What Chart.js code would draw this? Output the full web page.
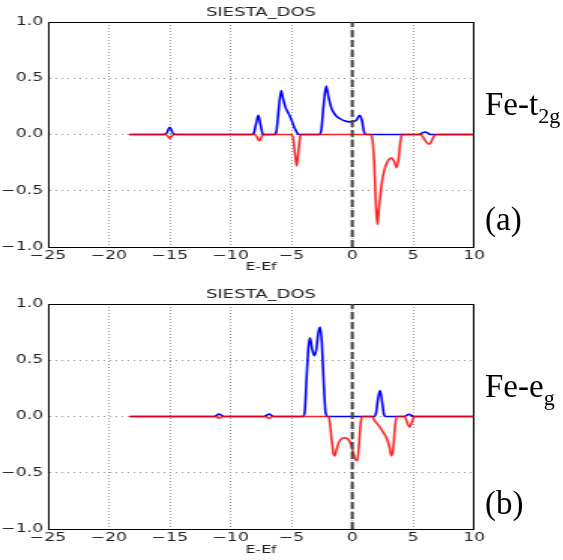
<!DOCTYPE html>
<html>
<head>
<meta charset="utf-8">
<script src="https://cdn.jsdelivr.net/npm/chart.js@4"></script>
<style>
body { margin: 0; background: #fff; }
#page { position: relative; width: 563px; height: 560px; overflow: hidden; }
/* the source figure is stretched sideways, so each plot is drawn narrow and widened */
.box { position: absolute; left: 0; width: 375px; transform: scaleX(1.50133); transform-origin: 0 0; }
.lbl { position: absolute; font-family: "Liberation Serif", serif; font-size: 33px; line-height: 32px; color: #000; white-space: nowrap; }
.lbl sub { font-size: 22px; vertical-align: -8px; line-height: 0; }
</style>
</head>
<body>
<div id="page">
  <div class="box" style="top:0;height:280px"><canvas id="chartA"></canvas></div>
  <div class="box" style="top:282px;height:278px"><canvas id="chartB"></canvas></div>
  <div class="lbl" style="left:485px;top:88px">Fe-t<sub>2g</sub></div>
  <div class="lbl" style="left:485px;top:203px">(a)</div>
  <div class="lbl" style="left:485px;top:370px">Fe-e<sub>g</sub></div>
  <div class="lbl" style="left:485px;top:487px">(b)</div>
</div>
<script>
// axis ticks
const energyTicks = [-25, -20, -15, -10, -5, 0, 5, 10];
const dosTicks = [-1.0, -0.5, 0.0, 0.5, 1.0];
const fermiLevel = 0;

// (a) Fe-t2g, [E-Ef, DOS]
const t2gUp = [[-18.3,0],[-15.6,0],[-15.3,0.005],[-15,0.065],[-14.7,0.005],[-14.4,0],
  [-8.3,0],[-8.1,0.01],[-7.9,0.1],[-7.72,0.17],[-7.55,0.09],[-7.35,0.005],[-7.2,0],
  [-6.4,0],[-6.25,0.02],[-6.05,0.22],[-5.85,0.39],[-5.65,0.3],[-5.45,0.23],[-5.25,0.19],
  [-5.0,0.13],[-4.75,0.06],[-4.5,0.01],[-4.35,0],
  [-2.7,0],[-2.55,0.04],[-2.35,0.27],[-2.15,0.43],[-1.95,0.33],[-1.7,0.23],[-1.4,0.175],
  [-1.0,0.14],[-0.6,0.12],[-0.2,0.112],[0.1,0.115],[0.35,0.13],[0.6,0.17],[0.8,0.12],
  [0.95,0.03],[1.1,0],[5.5,0],[5.75,0.015],[6.0,0.022],[6.25,0.01],[6.5,0],[10,0]];
const t2gDown = [[-18.3,0],[-15.4,0],[-15.15,-0.015],[-15,-0.035],[-14.85,-0.015],[-14.6,0],
  [-8.0,0],[-7.85,-0.02],[-7.64,-0.057],[-7.45,-0.02],[-7.3,0],
  [-5.0,0],[-4.85,-0.04],[-4.7,-0.18],[-4.57,-0.28],[-4.45,-0.18],[-4.3,-0.03],[-4.15,0],
  [1.5,0],[1.65,-0.04],[1.8,-0.25],[1.95,-0.65],[2.07,-0.8],[2.2,-0.65],[2.4,-0.45],
  [2.65,-0.31],[2.9,-0.24],[3.2,-0.21],[3.45,-0.24],[3.65,-0.295],[3.82,-0.2],[3.95,-0.06],
  [4.1,0],[5.6,0],[5.85,-0.03],[6.1,-0.07],[6.33,-0.087],[6.55,-0.05],[6.75,-0.01],[6.9,0],[10,0]];

// (b) Fe-eg
const egUp = [[-18.3,0],[-11.35,0],[-11.15,0.01],[-10.95,0.022],[-10.75,0.01],[-10.55,0],
  [-7.25,0],[-7.05,0.01],[-6.84,0.022],[-6.65,0.01],[-6.45,0],
  [-4.05,0],[-3.9,0.05],[-3.75,0.35],[-3.6,0.62],[-3.47,0.7],[-3.3,0.6],[-3.12,0.54],
  [-2.95,0.6],[-2.8,0.74],[-2.65,0.795],[-2.5,0.65],[-2.35,0.3],[-2.2,0.04],[-2.05,0],
  [1.8,0],[1.95,0.03],[2.1,0.15],[2.28,0.23],[2.45,0.13],[2.6,0.02],[2.75,0],
  [4.3,0],[4.5,0.012],[4.66,0.02],[4.85,0.01],[5.05,0],[10,0]];
const egDown = [[-18.3,0],[-11.25,0],[-10.95,-0.015],[-10.65,0],[-7.15,0],[-6.84,-0.015],[-6.55,0],
  [-1.95,0],[-1.85,-0.05],[-1.7,-0.2],[-1.55,-0.33],[-1.45,-0.35],[-1.3,-0.3],[-1.1,-0.23],
  [-0.85,-0.195],[-0.6,-0.19],[-0.35,-0.2],[-0.1,-0.25],[0.1,-0.33],[0.3,-0.39],[0.42,-0.39],
  [0.55,-0.25],[0.7,-0.05],[0.82,0],
  [1.65,0],[1.8,-0.03],[2.0,-0.06],[2.3,-0.1],[2.6,-0.15],[2.85,-0.2],[3.05,-0.27],[3.2,-0.35],
  [3.35,-0.3],[3.5,-0.1],[3.65,0],[4.3,0],[4.5,-0.05],[4.72,-0.095],[4.9,-0.05],[5.1,0],[10,0]];

const toPoints = arr => arr.map(p => ({ x: p[0], y: p[1] }));
const minus = v => String(v).replace("-", "\u2212");
const tickFont = { family: "DejaVu Sans", size: 11.5 };

const makeChart = (id, up, down, xAxisH, xTitlePad) => {
  const canvas = document.getElementById(id);
  return new Chart(canvas, {
    type: "line",
    data: {
      datasets: [
        {
          // fermi level marker
          data: [{ x: fermiLevel, y: dosTicks[0] }, { x: fermiLevel, y: dosTicks[dosTicks.length - 1] }],
          borderColor: "#444",
          borderWidth: 2,
          borderDash: [7, 3],
          pointRadius: 0
        },
        {
          data: toPoints(down),
          borderColor: "rgba(255,0,0,0.85)",
          borderWidth: 1.6,
          pointRadius: 0,
          cubicInterpolationMode: "monotone"
        },
        {
          data: toPoints(up),
          borderColor: "#0000ff",
          borderWidth: 1.6,
          pointRadius: 0,
          cubicInterpolationMode: "monotone"
        }
      ]
    },
    options: {
      responsive: true,
      maintainAspectRatio: false,
      animation: false,
      layout: { padding: { left: 0, right: 59.3, top: 0, bottom: 0 } },
      plugins: { legend: { display: false }, tooltip: { enabled: false } },
      scales: {
        x: {
          type: "linear",
          min: energyTicks[0],
          max: energyTicks[energyTicks.length - 1],
          afterBuildTicks: s => { s.ticks = energyTicks.map(v => ({ value: v })); },
          afterFit: s => { s.height = xAxisH; },
          ticks: { callback: minus, font: tickFont, color: "#222", padding: 2, maxRotation: 0 },
          grid: { color: "#999", drawTicks: false },
          border: { color: "#000", width: 1, dash: [1, 2] },
          title: { display: true, text: "E-Ef", font: { family: "DejaVu Sans", size: 10.5 }, color: "#222", padding: { top: 0, bottom: xTitlePad } }
        },
        x2: {
          type: "linear",
          position: "top",
          min: energyTicks[0],
          max: energyTicks[energyTicks.length - 1],
          afterFit: s => { s.height = 22; },
          ticks: { display: false },
          grid: { drawOnChartArea: false, drawTicks: false },
          border: { color: "#000", width: 1 },
          title: { display: true, text: "SIESTA_DOS", font: { family: "DejaVu Sans", size: 12 }, color: "#222", padding: { top: 6, bottom: 1 } }
        },
        y: {
          min: dosTicks[0],
          max: dosTicks[dosTicks.length - 1],
          afterBuildTicks: s => { s.ticks = dosTicks.map(v => ({ value: v })); },
          afterFit: s => { s.width = 32; },
          ticks: { callback: v => minus(v.toFixed(1)), font: tickFont, color: "#222", padding: 3.3 },
          grid: { color: "#999", drawTicks: false },
          border: { color: "#000", width: 1, dash: [1, 3] }
        },
        y2: {
          position: "right",
          min: dosTicks[0],
          max: dosTicks[dosTicks.length - 1],
          afterFit: s => { s.width = 0; },
          ticks: { display: false },
          grid: { drawOnChartArea: false, drawTicks: false },
          border: { color: "#000", width: 1 }
        }
      }
    }
  });
};

makeChart("chartA", t2gUp, t2gDown, 33, 6);
makeChart("chartB", egUp, egDown, 31, 3);
</script>
</body>
</html>
